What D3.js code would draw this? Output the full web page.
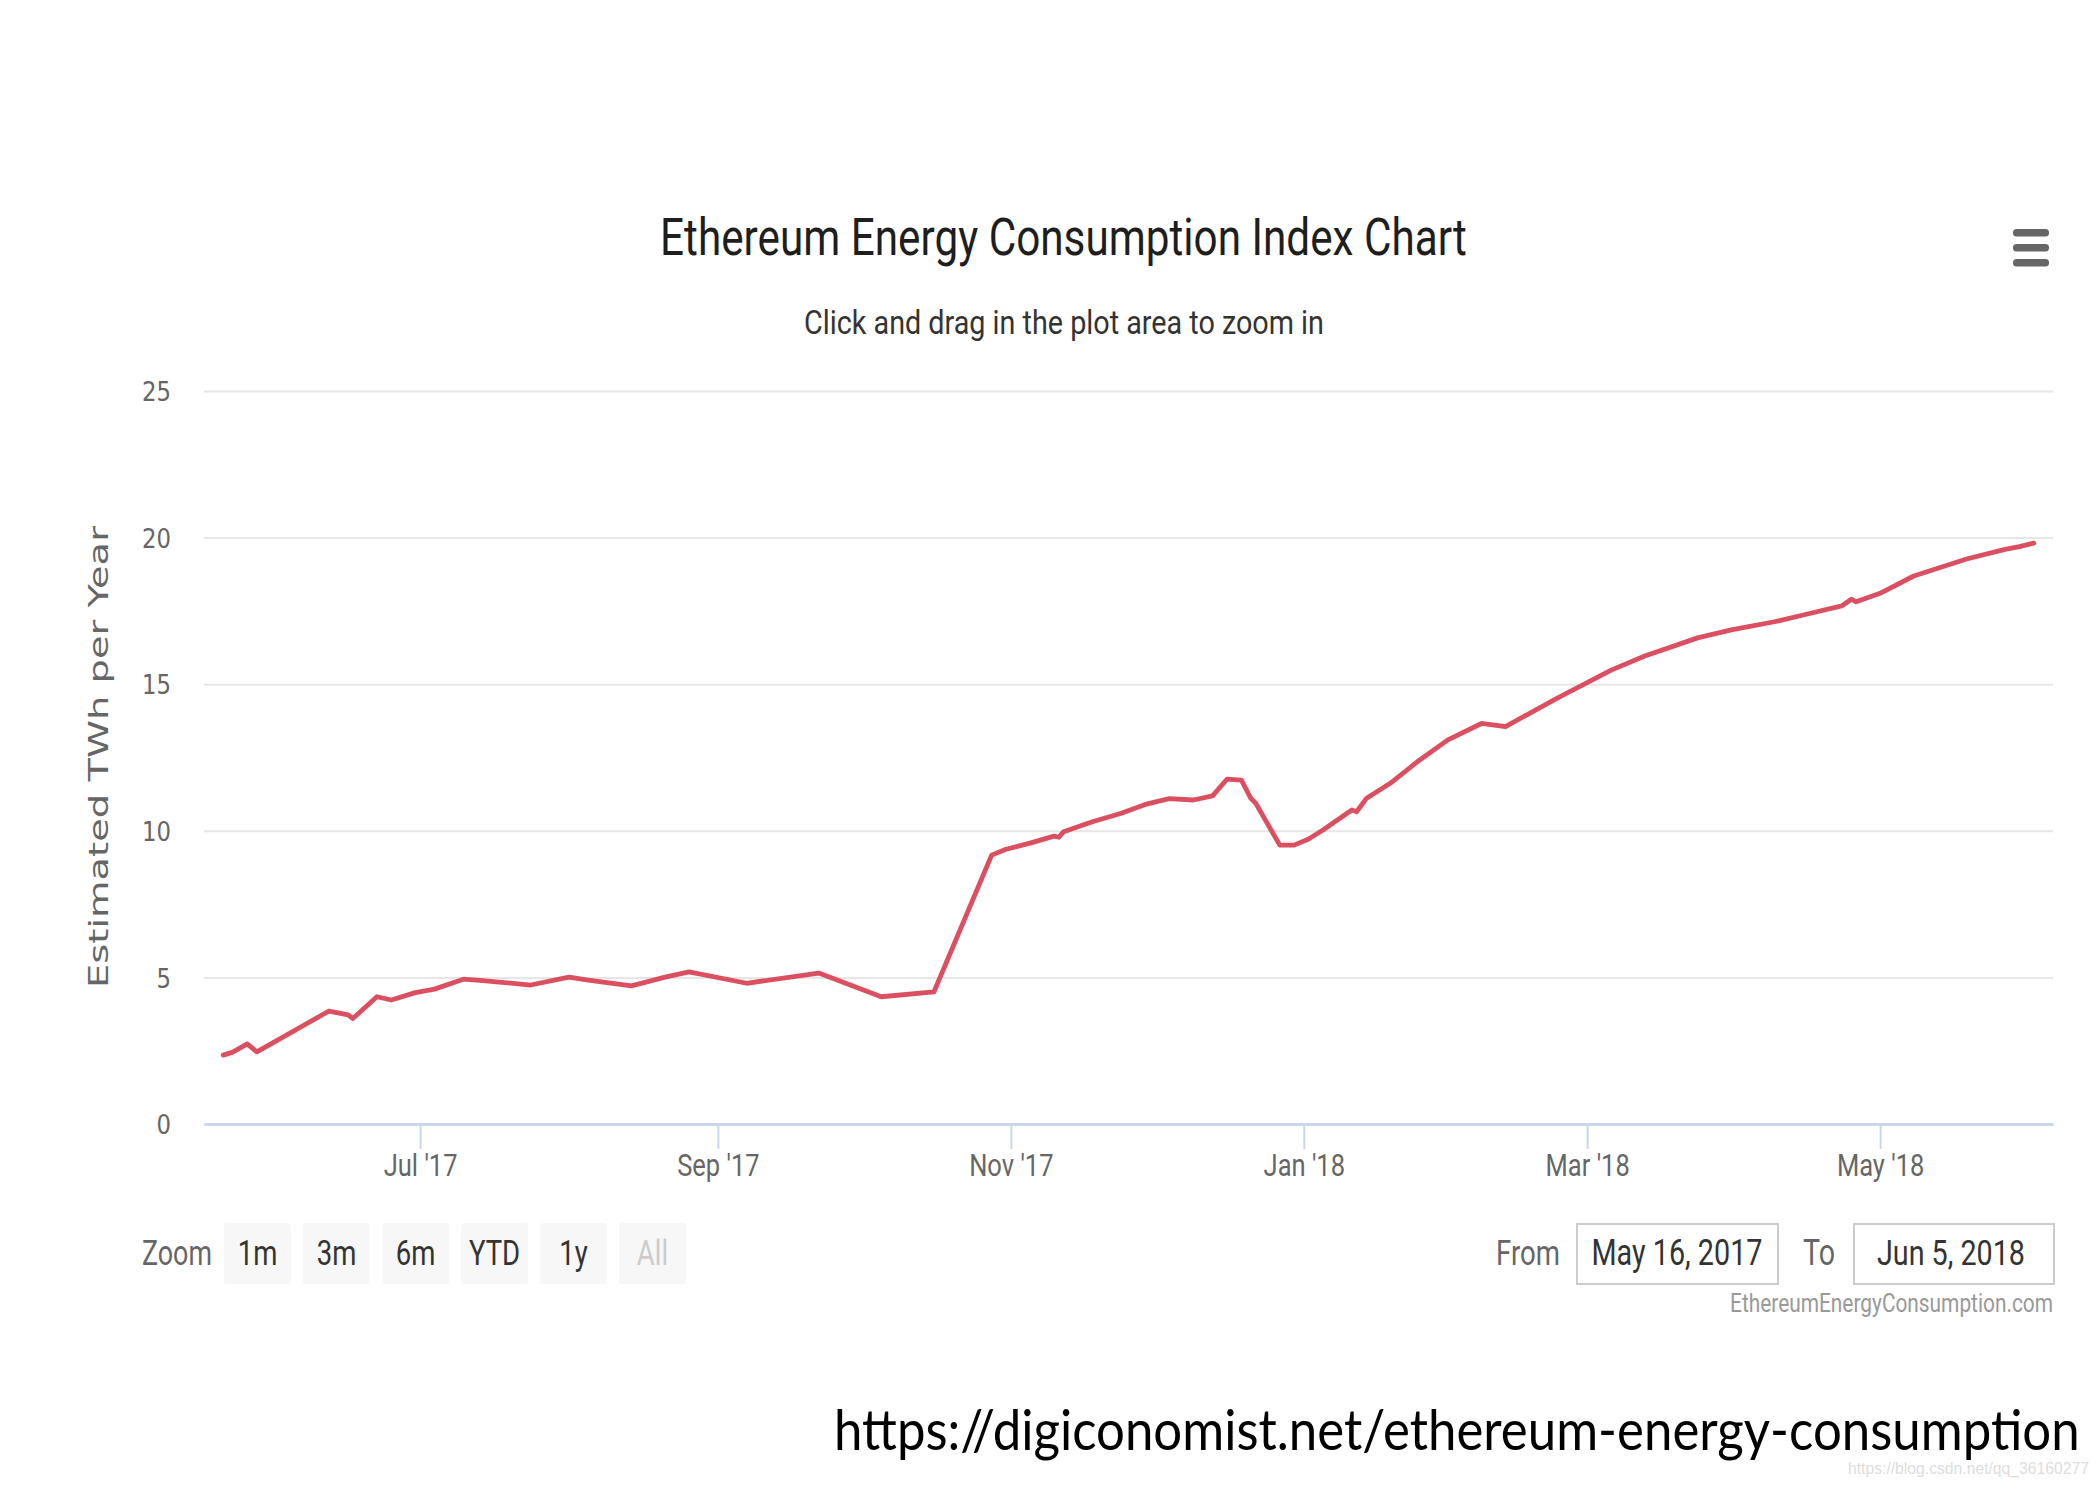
<!DOCTYPE html>
<html><head><meta charset="utf-8">
<script src="https://cdn.jsdelivr.net/npm/d3@7"></script>
<style>
html,body{margin:0;padding:0;background:#fff;}
svg{display:block;}
</style></head>
<body>
<svg id="chart" width="2100" height="1488"></svg>
<script>
// ---------- data ----------
const dates = [
 "2017-05-21","2017-05-23","2017-05-26","2017-05-28","2017-06-12","2017-06-16","2017-06-17",
 "2017-06-22","2017-06-25","2017-06-30","2017-07-04","2017-07-10","2017-07-14","2017-07-24",
 "2017-08-01","2017-08-05","2017-08-14","2017-08-21","2017-08-26","2017-09-07","2017-09-22",
 "2017-10-05","2017-10-16","2017-10-28","2017-10-31","2017-11-05","2017-11-10","2017-11-11",
 "2017-11-12","2017-11-18","2017-11-24","2017-11-29","2017-12-04","2017-12-09","2017-12-13",
 "2017-12-16","2017-12-19","2017-12-21","2017-12-22","2017-12-27","2017-12-30","2018-01-02",
 "2018-01-05","2018-01-11","2018-01-12","2018-01-14","2018-01-19","2018-01-25","2018-01-31",
 "2018-02-07","2018-02-12","2018-02-22","2018-03-06","2018-03-13","2018-03-24","2018-03-31",
 "2018-04-09","2018-04-15","2018-04-23","2018-04-25","2018-04-26","2018-05-01","2018-05-08",
 "2018-05-19","2018-05-27","2018-05-30","2018-06-02"
];
const values = [
 2.35,2.45,2.73,2.46,3.85,3.72,3.60,
 4.34,4.23,4.48,4.60,4.94,4.89,4.74,
 5.01,4.91,4.71,5.01,5.19,4.80,5.15,
 4.34,4.51,9.17,9.37,9.58,9.82,9.78,
 9.97,10.31,10.60,10.90,11.10,11.05,11.19,
 11.76,11.73,11.10,10.94,9.51,9.51,9.72,
 10.03,10.71,10.65,11.10,11.62,12.40,13.10,
 13.66,13.55,14.46,15.48,15.96,16.58,16.85,
 17.13,17.36,17.67,17.90,17.81,18.10,18.69,
 19.27,19.60,19.69,19.81
];
const xDomain = ["2017-05-17","2018-06-06"];
const xTickDates = ["2017-07-01","2017-09-01","2017-11-01","2018-01-01","2018-03-01","2018-05-01"];
const xTickLabels = ["Jul '17","Sep '17","Nov '17","Jan '18","Mar '18","May '18"];
const yTicks = [0,5,10,15,20,25];
const zoomButtons = ["1m","3m","6m","YTD","1y","All"];
const rangeFrom = "May 16, 2017";
const rangeTo = "Jun 5, 2018";

// ---------- setup ----------
const svg = d3.select("#chart");
const parse = d3.timeParse("%Y-%m-%d");
const data = dates.map((d,i)=>({date:parse(d), value:values[i]}));
const L = 204, R = 2053, T = 391, B = 1124;
const x = d3.scaleTime().domain(xDomain.map(parse)).range([L,R]);
const y = d3.scaleLinear().domain([0,25]).range([B,T]);

function label(str, px, py, o){
  const g = svg.append("g");
  const t = g.append("text").text(str)
    .attr("font-family", o.family).attr("font-size", o.size)
    .attr("fill", o.fill).attr("text-anchor", o.anchor || "start");
  const w = t.node().getComputedTextLength();
  const sx = o.width ? o.width / w : 1;
  g.attr("transform", `translate(${px},${py})` + (o.rotate ? ` rotate(${o.rotate})` : "") + ` scale(${sx},${o.sy || 1})`);
  return g;
}

// ---------- gridlines + y axis ----------
const yAxisG = svg.append("g").attr("transform", `translate(${L},0)`)
  .call(d3.axisLeft(y).tickValues(yTicks).tickSize(-(R-L)).tickFormat(d3.format("d")));
yAxisG.select(".domain").remove();
yAxisG.selectAll(".tick line").attr("stroke", "#e6e6e6").attr("stroke-width", 2);
const yTexts = yAxisG.selectAll(".tick text")
  .attr("font-family", "DejaVu Sans").attr("font-size", 27).attr("fill", "#666").attr("dy", "0.36em");
const yRef = yTexts.filter(d=>d===25).node().getComputedTextLength();
const yFactor = 29 / yRef;
yTexts.attr("x", -33 / yFactor).attr("transform", `scale(${yFactor},1)`);

// ---------- x axis ----------
const xAxisG = svg.append("g").attr("transform", `translate(0,${B})`)
  .call(d3.axisBottom(x).tickValues(xTickDates.map(parse)).tickSize(25).tickSizeOuter(0)
    .tickFormat((d,i)=>xTickLabels[i]));
xAxisG.select(".domain").attr("stroke", "#ccd6eb").attr("stroke-width", 3);
xAxisG.selectAll(".tick line").attr("stroke", "#ccd6eb").attr("stroke-width", 2);
const xTexts = xAxisG.selectAll(".tick text")
  .attr("font-family", "Roboto").attr("font-size", 31).attr("fill", "#666")
  .attr("y", 52).attr("dy", 0);
let xSum = 0; xTexts.each(function(){ xSum += this.getComputedTextLength(); });
const xFactor = 494 / xSum;
xTexts.attr("transform", `scale(${xFactor},1)`);

// ---------- series ----------
const line = d3.line().x(d=>x(d.date)).y(d=>y(d.value));
svg.append("path").datum(data).attr("d", line)
  .attr("fill", "none").attr("stroke", "#db4f60").attr("stroke-width", 4.8)
  .attr("stroke-linejoin", "round").attr("stroke-linecap", "round");

// ---------- titles ----------
label("Ethereum Energy Consumption Index Chart", 1063.5, 255,
  {family:"Roboto", size:52, fill:"#1e1e1e", anchor:"middle", width:807});
label("Click and drag in the plot area to zoom in", 1064, 334,
  {family:"Roboto", size:34, fill:"#333", anchor:"middle", width:520});
label("Estimated TWh per Year", 108, 757,
  {family:"DejaVu Sans", size:34, fill:"#666", anchor:"middle", width:462, rotate:-90, sy:0.8});

// ---------- menu icon ----------
[229, 244, 259].forEach(yy=>{
  svg.append("rect").attr("x", 2013).attr("y", yy).attr("width", 36).attr("height", 7.5)
    .attr("rx", 3.5).attr("fill", "#666");
});

// ---------- range selector ----------
label("Zoom", 142, 1265, {family:"Roboto", size:36, fill:"#666", width:70});
const btnG = svg.append("g");
const btn = btnG.selectAll("g").data(zoomButtons).enter().append("g")
  .attr("transform", (d,i)=>`translate(${224 + i*79},1223)`);
btn.append("rect").attr("width", 67).attr("height", 61).attr("rx", 3).attr("fill", "#f7f7f7");
const bTexts = btn.append("text").text(d=>d)
  .attr("font-family", "Roboto").attr("font-size", 36)
  .attr("fill", d=>d==="All" ? "#cccccc" : "#333").attr("text-anchor", "middle");
let bSum = 0; bTexts.each(function(){ bSum += this.getComputedTextLength(); });
const bFactor = 230 / bSum;
bTexts.attr("transform", `translate(33.5,42) scale(${bFactor},1)`);

label("From", 1496, 1265, {family:"Roboto", size:36, fill:"#666", width:64});
svg.append("rect").attr("x", 1577).attr("y", 1224).attr("width", 201).attr("height", 60)
  .attr("fill", "#fff").attr("stroke", "#cccccc").attr("stroke-width", 2);
label(rangeFrom, 1677, 1265, {family:"Roboto", size:36, fill:"#333", anchor:"middle", width:171});
label("To", 1803, 1265, {family:"Roboto", size:36, fill:"#666", width:32});
svg.append("rect").attr("x", 1854).attr("y", 1224).attr("width", 200).attr("height", 60)
  .attr("fill", "#fff").attr("stroke", "#cccccc").attr("stroke-width", 2);
label(rangeTo, 1951, 1265, {family:"Roboto", size:36, fill:"#333", anchor:"middle", width:148});

label("EthereumEnergyConsumption.com", 2053, 1312,
  {family:"Roboto", size:25, fill:"#999", anchor:"end", width:323});

// ---------- footer ----------
label("https://digiconomist.net/ethereum-energy-consumption", 834, 1450,
  {family:"Lato", size:57, fill:"#000", width:1246});
label("https://blog.csdn.net/qq_36160277", 1848, 1474,
  {family:"Liberation Sans", size:17, fill:"#dddddd", width:241});
</script>
</body></html>
